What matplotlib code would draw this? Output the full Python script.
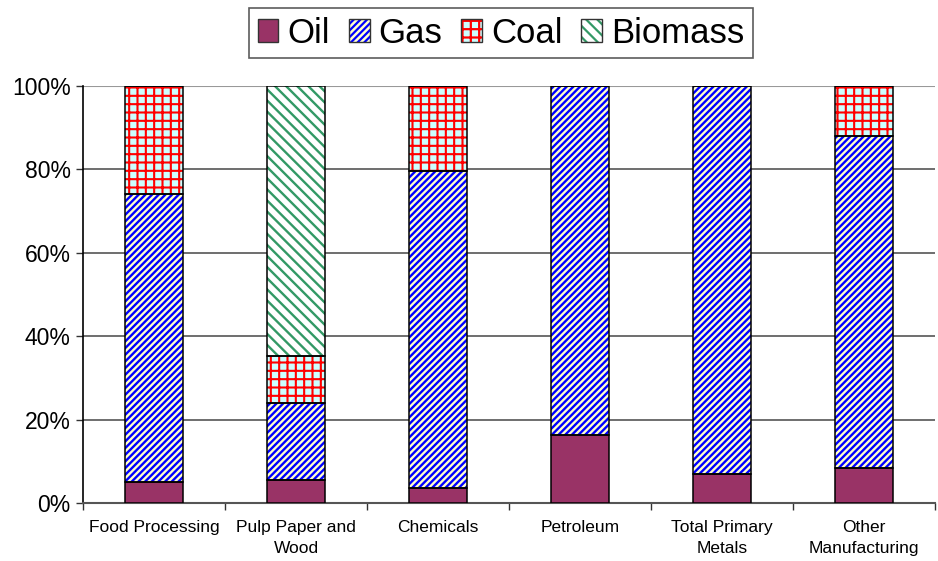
import matplotlib

matplotlib.use("Agg")
import matplotlib.pyplot as plt
import numpy as np
from matplotlib.legend_handler import HandlerTuple
from matplotlib.patches import Rectangle

CATEGORIES = [
    "Food Processing",
    "Pulp Paper and\nWood",
    "Chemicals",
    "Petroleum",
    "Total Primary\nMetals",
    "Other\nManufacturing",
]
FUELS = ["Oil", "Gas", "Coal", "Biomass"]

# shares of each fuel, percent
OIL = [5.0, 5.5, 3.6, 16.3, 7.0, 8.4]
GAS = [69.1, 18.5, 76.0, 83.7, 93.0, 79.6]
COAL = [25.9, 11.3, 20.4, 0.0, 0.0, 12.0]
BIOMASS = [0.0, 64.7, 0.0, 0.0, 0.0, 0.0]

Y_TICKS = [0, 20, 40, 60, 80, 100]

# (face colour, hatch colour, hatch pattern, hatch width)
STYLES = {
    "Oil": ("#993366", "#993366", None, 1.0),
    "Gas": ("#FFFFCC", "#0000FF", "/////", 1.7),
    "Coal": ("#CCFFFF", "#FF0000", "++", 1.5),
    "Biomass": ("#FFFFFF", "#339966", "\\\\\\", 1.7),
}

plt.rcParams["font.family"] = ["Liberation Sans", "DejaVu Sans"]
plt.rcParams["hatch.linewidth"] = 1.6

fig = plt.figure(figsize=(9.38, 5.61), dpi=100)
ax = fig.add_axes([0.0885, 0.1034, 0.9085, 0.7433])

x = np.arange(len(CATEGORIES))
width = 0.41
series = {"Oil": OIL, "Gas": GAS, "Coal": COAL, "Biomass": BIOMASS}
bottom = np.zeros(len(CATEGORIES))
handles = []
for fuel in FUELS:
    vals = np.array(series[fuel])
    face, hcol, hatch, hlw = STYLES[fuel]
    with plt.rc_context({"hatch.linewidth": hlw}):
        ax.bar(x, vals, width, bottom=bottom, color=face, edgecolor=hcol,
               hatch=hatch, linewidth=0, zorder=3)
        fill = Rectangle((0, 0), 1, 1, facecolor=face, edgecolor=hcol,
                         hatch=hatch, linewidth=0)
    ax.bar(x, vals, width, bottom=bottom, fill=False, edgecolor="black",
           linewidth=1.1, zorder=4)
    bottom += vals
    frame = Rectangle((0, 0), 1, 1, fill=False, edgecolor="#333333",
                      linewidth=1.0)
    handles.append((fill, frame))

ax.set_xlim(-0.5, len(CATEGORIES) - 0.5)
ax.set_ylim(0, 100)
ax.set_yticks(Y_TICKS)
ax.set_yticklabels([f"{v}%" for v in Y_TICKS], fontsize=16.5)
ax.set_xticks(x)
ax.set_xticklabels(CATEGORIES, fontsize=12.5, linespacing=1.5)
ax.tick_params(axis="x", length=0, pad=12)
ax.set_xticks(np.arange(-0.5, len(CATEGORIES)), minor=True)
ax.tick_params(axis="x", which="minor", length=5, width=1, color="#333333")
ax.tick_params(axis="y", length=5, width=1, color="#333333", pad=4)

for v in Y_TICKS[1:-1]:
    ax.axhline(v, color="#555555", linewidth=1.2, zorder=1)
ax.axhline(100, color="#999999", linewidth=1.5, zorder=1)

for side in ("top", "right"):
    ax.spines[side].set_visible(False)
ax.spines["left"].set_color("black")
ax.spines["left"].set_linewidth(1.2)
ax.spines["bottom"].set_color("#555555")
ax.spines["bottom"].set_linewidth(1.5)

leg = fig.legend(handles, FUELS, handler_map={tuple: HandlerTuple(ndivide=1)},
                 loc="upper center", bbox_to_anchor=(0.534, 0.998), ncol=4,
                 fontsize=25, frameon=True, fancybox=False, edgecolor="#333333",
                 handlelength=0.6, handleheight=0.6, handletextpad=0.25,
                 columnspacing=0.55, borderpad=0.25, borderaxespad=0.2)
leg.get_frame().set_linewidth(1.2)

fig.savefig("out.png", dpi=100)
